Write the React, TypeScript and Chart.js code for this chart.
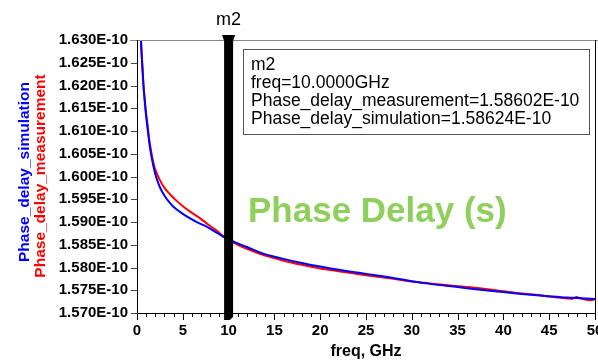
import React, { useEffect, useRef } from "react";
import { Chart, registerables } from "chart.js";

Chart.register(...registerables);

// frequency (GHz) and phase delay values (units of 1E-10 s)
const simFreq = [0.4, 0.45, 0.51, 0.6, 0.7, 0.8, 0.95, 1.1, 1.23, 1.4, 1.6, 1.8, 2.0, 2.33, 2.6, 3.06, 3.5, 4.0, 5.0, 5.8, 6.7, 7.6, 8.5, 9.4, 10, 11, 12, 13.7, 16, 18, 20, 22, 25, 28, 30, 32, 35, 38, 40, 42, 45, 47, 48, 49, 50];
const simValues = [1.632, 1.629, 1.6267, 1.6235, 1.62, 1.6176, 1.6142, 1.6115, 1.6093, 1.6066, 1.6042, 1.6022, 1.6005, 1.5985, 1.5972, 1.5956, 1.5944, 1.5933, 1.5918, 1.5908, 1.5898, 1.589, 1.5879, 1.5868, 1.58624, 1.5853, 1.5845, 1.5831, 1.5819, 1.581, 1.5802, 1.5795, 1.5786, 1.5777, 1.577, 1.5764, 1.5757, 1.575, 1.5746, 1.5742, 1.5737, 1.5734, 1.5733, 1.5732, 1.5731];

const measFreq = [0.4, 0.45, 0.51, 0.6, 0.7, 0.8, 0.95, 1.1, 1.23, 1.4, 1.6, 1.78, 2.0, 2.5, 3.0, 3.6, 4.3, 5.05, 6.0, 6.9, 7.8, 8.7, 9.4, 10, 11, 12, 14, 16, 18, 20, 22, 25, 28, 30, 32, 35, 38, 40, 42, 44, 45, 46, 47, 47.5, 48, 48.3, 48.6, 49, 49.5, 50];
const measValues = [1.6325, 1.6295, 1.627, 1.624, 1.6205, 1.618, 1.6147, 1.6121, 1.6099, 1.6073, 1.6049, 1.6031, 1.6015, 1.5992, 1.5975, 1.5961, 1.5947, 1.5934, 1.592, 1.5908, 1.5894, 1.5881, 1.5869, 1.58602, 1.585, 1.5841, 1.5826, 1.5815, 1.5806, 1.5798, 1.5792, 1.5783, 1.5775, 1.5769, 1.5765, 1.5759, 1.5753, 1.5748, 1.5743, 1.5739, 1.5736, 1.5734, 1.5732, 1.5731, 1.5735, 1.5733, 1.5731, 1.5729, 1.5728, 1.5731];

const markerFreq = 10;
const markerLines = ["m2", "freq=10.0000GHz", "Phase_delay_measurement=1.58602E-10", "Phase_delay_simulation=1.58624E-10"];
const yMin = 1.57;
const yMax = 1.63;
const yStep = 0.005;
const xMin = 0;
const xMax = 50;

const FONT = "Arial, 'Liberation Sans', sans-serif";

const decorPlugin = {
  id: "decor",
  afterDatasetsDraw(chart: any) {
    const { ctx, chartArea: a, scales } = chart;
    const xs = scales.x;
    const ys = scales.y;
    ctx.save();
    // frame
    ctx.lineWidth = 1;
    ctx.strokeStyle = "#888";
    ctx.beginPath();
    ctx.moveTo(a.left - 7, a.top + 0.5);
    ctx.lineTo(620, a.top + 0.5);
    ctx.stroke();
    ctx.strokeStyle = "#000";
    ctx.beginPath();
    ctx.moveTo(a.left + 0.5, a.top);
    ctx.lineTo(a.left + 0.5, a.bottom + 0.5);
    ctx.lineTo(a.right + 0.5, a.bottom + 0.5);
    ctx.lineTo(a.right + 0.5, a.top);
    ctx.stroke();
    // y ticks
    for (let v = yMin; v <= yMax + 1e-9; v += yStep) {
      const y = Math.round(ys.getPixelForValue(v)) + 0.5;
      ctx.strokeStyle = v > yMax - 1e-9 ? "#888" : "#444";
      ctx.beginPath();
      ctx.moveTo(a.left - 6, y);
      ctx.lineTo(a.left, y);
      ctx.stroke();
    }
    // x ticks
    ctx.strokeStyle = "#000";
    for (let v = xMin; v <= xMax; v += 1) {
      const x = Math.round(xs.getPixelForValue(v)) + 0.5;
      const len = v % 5 === 0 ? 7 : 4;
      ctx.beginPath();
      ctx.moveTo(x, a.bottom);
      ctx.lineTo(x, a.bottom + len);
      ctx.stroke();
    }
    // marker
    const mx = xs.getPixelForValue(markerFreq);
    ctx.fillStyle = "#000";
    ctx.beginPath();
    ctx.moveTo(mx - 6.5, a.top - 5);
    ctx.lineTo(mx + 6.5, a.top - 5);
    ctx.lineTo(mx + 4.5, a.top + 1);
    ctx.lineTo(mx + 4.5, a.bottom + 4);
    ctx.lineTo(mx + 1, a.bottom + 7);
    ctx.lineTo(mx - 4.5, a.bottom + 7);
    ctx.lineTo(mx - 4.5, a.top + 1);
    ctx.closePath();
    ctx.fill();
    ctx.font = `18px ${FONT}`;
    ctx.textAlign = "center";
    ctx.textBaseline = "alphabetic";
    ctx.fillText("m2", mx, a.top - 15);
    // marker readout box
    ctx.strokeStyle = "#555";
    ctx.strokeRect(243.5, 49.5, 346, 85);
    ctx.font = `17.5px ${FONT}`;
    ctx.textAlign = "left";
    ctx.fillStyle = "#000";
    const baselines = [70, 88, 106, 124];
    markerLines.forEach((t, i) => ctx.fillText(t, 251, baselines[i]));
    // big label
    ctx.fillStyle = "#8fcf5c";
    ctx.font = `bold 35px ${FONT}`;
    ctx.fillText("Phase Delay (s)", 248, 222);
    // y titles
    ctx.font = `bold 15.5px ${FONT}`;
    ctx.textAlign = "center";
    ctx.textBaseline = "middle";
    ctx.save();
    ctx.translate(25, 172);
    ctx.rotate(-Math.PI / 2);
    ctx.fillStyle = "#0000ff";
    ctx.fillText("Phase_delay_simulation", 0, 0);
    ctx.restore();
    ctx.save();
    ctx.translate(41, 176);
    ctx.rotate(-Math.PI / 2);
    ctx.fillStyle = "#ff0000";
    ctx.fillText("Phase_delay_measurement", 0, 0);
    ctx.restore();
    // x title
    ctx.fillStyle = "#000";
    ctx.font = `bold 16px ${FONT}`;
    ctx.fillText("freq, GHz", (a.left + a.right) / 2, 352);
    ctx.restore();
  },
};

export default function App() {
  const ref = useRef<HTMLCanvasElement>(null);
  useEffect(() => {
    if (!ref.current) return;
    const chart = new Chart(ref.current, {
      type: "line",
      data: {
        datasets: [
          {
            label: "Phase_delay_simulation",
            data: simFreq.map((f, i) => ({ x: f, y: simValues[i] })),
            borderColor: "#0000ff",
            borderWidth: 2,
            pointRadius: 0,
            cubicInterpolationMode: "monotone",
          },
          {
            label: "Phase_delay_measurement",
            data: measFreq.map((f, i) => ({ x: f, y: measValues[i] })),
            borderColor: "#ff0000",
            borderWidth: 2,
            pointRadius: 0,
            cubicInterpolationMode: "monotone",
          },
        ],
      },
      options: {
        animation: false,
        responsive: false,
        devicePixelRatio: 1,
        layout: { padding: { left: 0, top: 40, right: 25, bottom: 0 } },
        plugins: { legend: { display: false }, tooltip: { enabled: false } },
        scales: {
          x: {
            type: "linear",
            min: xMin,
            max: xMax,
            grid: { display: false, drawTicks: false },
            border: { display: false },
            ticks: {
              stepSize: 1,
              autoSkip: false,
              maxRotation: 0,
              padding: 9,
              color: "#000",
              font: { family: FONT, size: 15, weight: "bold" },
              callback: (v: any) => (Number(v) % 5 === 0 ? String(v) : ""),
            },
            afterFit: (s: any) => {
              s.height = 48;
            },
          },
          y: {
            min: yMin,
            max: yMax,
            grid: { display: false, drawTicks: false },
            border: { display: false },
            ticks: {
              stepSize: yStep,
              padding: 9,
              color: "#000",
              font: { family: FONT, size: 15, weight: "bold" },
              callback: (v: any) => Number(v).toFixed(3) + "E-10",
            },
            afterFit: (s: any) => {
              s.width = 137;
            },
          },
        },
      },
      plugins: [decorPlugin],
    } as any);
    return () => chart.destroy();
  }, []);
  return (
    <div style={{ position: "fixed", left: 0, top: 0, width: 598, height: 361, overflow: "hidden", background: "#fff" }}>
      <canvas ref={ref} width={620} height={361} style={{ display: "block" }} />
    </div>
  );
}
